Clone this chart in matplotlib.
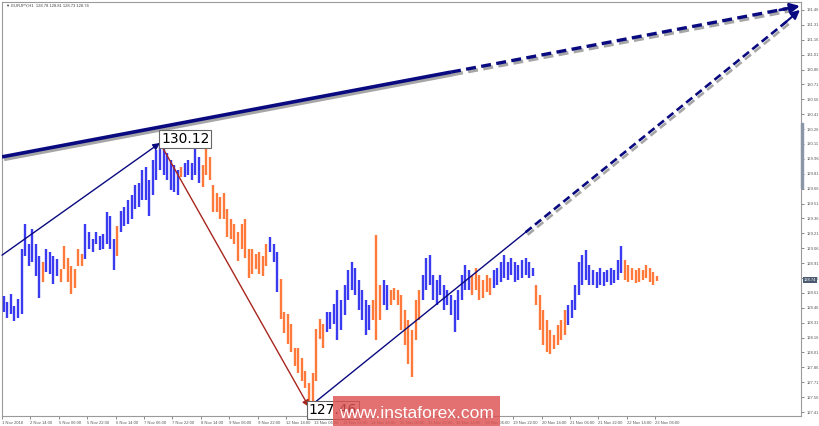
import numpy as np
import matplotlib.pyplot as plt
from matplotlib.patches import Rectangle
import matplotlib.patheffects as pe

# EURJPY H1 - bars (one bar per 2 hours)
highs = [128.58, 128.52, 128.60, 128.48, 128.55, 129.05, 129.30, 129.10, 129.25, 129.10,
         128.98, 128.92, 129.05, 129.02, 128.98, 128.95, 128.85, 129.08, 128.96, 128.88,
         128.85, 129.05, 129.00, 129.30, 129.22, 129.15, 129.22, 129.18, 129.20, 129.42,
         129.38, 129.15, 129.28, 129.43, 129.48, 129.55, 129.60, 129.70, 129.72, 129.85,
         129.88, 129.75, 129.95, 130.05, 130.12, 130.10, 130.02, 129.95, 129.90, 129.85,
         129.88, 129.92, 129.95, 129.92, 130.10, 129.98, 129.90, 130.06, 129.98, 129.70,
         129.62, 129.58, 129.62, 129.45, 129.35, 129.30, 129.22, 129.30, 129.35, 129.05,
         129.05, 129.00, 129.02, 128.98, 129.10, 129.17, 129.10, 129.02, 128.75, 128.42,
         128.40, 128.30, 128.05, 128.05, 127.95, 127.82, 127.70, 127.80, 128.25, 128.35,
         128.30, 128.42, 128.42, 128.50, 128.64, 128.54, 128.69, 128.84, 128.92, 128.86,
         128.74, 128.64, 128.54, 128.49, 128.54, 129.19, 128.69, 128.74, 128.69, 128.64,
         128.66, 128.64, 128.59, 128.44, 128.34, 128.24, 128.54, 128.64, 128.79, 128.96,
         128.99, 128.79, 128.74, 128.79, 128.69, 128.64, 128.59, 128.54, 128.64, 128.79,
         128.89, 128.84, 128.79, 128.86, 128.79, 128.74, 128.79, 128.76, 128.84, 128.86,
         128.92, 128.99, 128.92, 128.96, 128.92, 128.89, 128.94, 128.96, 128.92, 128.86,
         128.69, 128.59, 128.44, 128.34, 128.24, 128.19, 128.29, 128.34, 128.44, 128.49,
         128.54, 128.69, 128.92, 128.99, 129.04, 128.89, 128.84, 128.82, 128.86, 128.82,
         128.84, 128.86, 128.84, 128.94, 129.08, 128.94, 128.89, 128.86, 128.84, 128.86,
         128.84, 128.89, 128.86, 128.82, 128.78]
lows = [128.42, 128.36, 128.40, 128.33, 128.36, 128.40, 128.98, 128.88, 128.92, 128.78,
        128.56, 128.72, 128.82, 128.80, 128.70, 128.78, 128.72, 128.85, 128.72, 128.60,
        128.66, 128.88, 128.88, 128.95, 129.05, 129.02, 129.10, 129.04, 129.05, 129.10,
        129.05, 128.84, 128.98, 129.22, 129.28, 129.30, 129.35, 129.45, 129.48, 129.55,
        129.55, 129.38, 129.60, 129.75, 129.85, 129.80, 129.75, 129.65, 129.63, 129.60,
        129.78, 129.78, 129.80, 129.75, 129.80, 129.72, 129.68, 129.80, 129.75, 129.42,
        129.42, 129.35, 129.35, 129.17, 129.15, 129.10, 128.93, 129.05, 128.96, 128.76,
        128.80, 128.85, 128.80, 128.78, 128.88, 129.02, 128.92, 128.62, 128.35, 128.21,
        128.10, 128.01, 127.87, 127.80, 127.72, 127.65, 127.46, 127.52, 127.72, 128.15,
        128.05, 128.22, 128.25, 128.30, 128.14, 128.24, 128.39, 128.54, 128.64, 128.59,
        128.44, 128.34, 128.19, 128.24, 128.34, 128.14, 128.34, 128.49, 128.44, 128.49,
        128.54, 128.49, 128.24, 128.09, 127.89, 127.76, 128.14, 128.34, 128.54, 128.64,
        128.69, 128.54, 128.49, 128.59, 128.44, 128.49, 128.39, 128.22, 128.34, 128.54,
        128.64, 128.64, 128.59, 128.64, 128.54, 128.56, 128.62, 128.59, 128.66, 128.69,
        128.72, 128.76, 128.74, 128.79, 128.72, 128.74, 128.76, 128.79, 128.76, 128.78,
        128.49, 128.24, 128.09, 128.01, 127.99, 128.04, 128.09, 128.14, 128.19, 128.29,
        128.36, 128.44, 128.59, 128.69, 128.74, 128.69, 128.69, 128.66, 128.69, 128.68,
        128.72, 128.69, 128.71, 128.74, 128.81, 128.74, 128.72, 128.74, 128.71, 128.72,
        128.74, 128.76, 128.72, 128.69, 128.73]
# wave colouring: index where each run starts, colours alternate blue / orange
run_starts = [0, 11, 12, 16, 23, 32, 33, 50, 51, 56, 75, 78, 91, 104, 107, 109,
              118, 132, 138, 150, 159, 175]

last_close = 128.74
header = "\u25bc EURJPY,H1  128.78 128.81 128.73 128.74"
date_labels = ["1 Nov 2018", "2 Nov 14:00", "5 Nov 06:00", "5 Nov 22:00", "6 Nov 14:00",
               "7 Nov 06:00", "7 Nov 22:00", "8 Nov 14:00", "9 Nov 06:00", "9 Nov 22:00",
               "12 Nov 14:00", "13 Nov 06:00", "13 Nov 22:00", "14 Nov 14:00", "15 Nov 06:00",
               "15 Nov 22:00", "16 Nov 14:00", "19 Nov 06:00", "19 Nov 22:00", "20 Nov 14:00",
               "21 Nov 06:00", "21 Nov 22:00", "22 Nov 14:00", "23 Nov 06:00"]
wave_start = 128.99      # thin arrow start at left edge
channel_start = 129.98   # thick line start at left edge
target_top = 131.50
target_low = 131.46

BLUE = '#3a3af0'
ORANGE = '#ff7a3a'
NAVY = '#0a0a80'
SMALL = dict(family='Liberation Sans', size=3.0)

fig = plt.figure(figsize=(8.2, 4.26), dpi=100)
ax = fig.add_axes([2 / 820, 10 / 426, 799 / 820, 414 / 426])
ax.set_xlim(-0.5, 224.6)
ax.set_ylim(127.37, 131.54)

n = len(highs)
x = np.arange(n)
colors = []
for k, s in enumerate(run_starts):
    e = run_starts[k + 1] if k + 1 < len(run_starts) else n
    colors += [BLUE if k % 2 == 0 else ORANGE] * (e - s)
ax.vlines(x, lows, highs, colors=colors, linewidth=1.7, zorder=3)

# wave arrows
ip = int(np.argmax(highs))
il = int(np.argmin(lows))
xl, xr = -0.5, 224.6

ax.annotate('', xy=(ip, highs[ip]), xytext=(xl, wave_start),
            arrowprops=dict(arrowstyle='-|>', color=NAVY, lw=1.0, mutation_scale=10,
                            shrinkA=0, shrinkB=0), zorder=5)
ax.annotate('', xy=(il, lows[il]), xytext=(ip, highs[ip]),
            arrowprops=dict(arrowstyle='-|>', color='#a8261e', lw=1.0, mutation_scale=10,
                            shrinkA=0, shrinkB=0), zorder=5)

shadow = [pe.SimpleLineShadow(offset=(1.5, -1.8), alpha=0.35), pe.Normal()]

# upper thick line: solid, then dashed projection
xs = 126
ys = channel_start + (target_top - channel_start) * (xs - xl) / (xr - xl)
ax.plot([xl, xs], [channel_start, ys], color=NAVY, lw=2.6, zorder=6,
        solid_capstyle='butt', path_effects=shadow)
ax.plot([xs, xr - 4], [ys, target_top - (target_top - channel_start) * 4 / (xr - xl)],
        color=NAVY, lw=2.4, ls=(0, (3, 1.6)), zorder=6, path_effects=shadow)
ax.annotate('', xy=(xr - 0.3, target_top),
            xytext=(xr - 6, target_top - (target_top - channel_start) * 6 / (xr - xl)),
            arrowprops=dict(arrowstyle='-|>', color=NAVY, lw=2.0, mutation_scale=14,
                            shrinkA=0, shrinkB=0), zorder=7, annotation_clip=False)

# lower line from the low: thin solid, then dashed projection
xs2 = 147
k2 = (target_low - lows[il]) / (xr - il)
ax.plot([il, xs2], [lows[il], lows[il] + k2 * (xs2 - il)], color=NAVY, lw=1.0, zorder=6)
ax.plot([xs2, xr - 4], [lows[il] + k2 * (xs2 - il), target_low - k2 * 4],
        color=NAVY, lw=1.9, ls=(0, (3, 1.6)), zorder=6, path_effects=shadow)
ax.annotate('', xy=(xr - 0.3, target_low), xytext=(xr - 5, target_low - k2 * 5),
            arrowprops=dict(arrowstyle='-|>', color=NAVY, lw=1.5, mutation_scale=13,
                            shrinkA=0, shrinkB=0), zorder=7, annotation_clip=False)

# price labels
box = dict(boxstyle='square,pad=0.12', facecolor='white', edgecolor='#666666', lw=0.8)
ax.text(ip + 0.3, highs[ip] + 0.04, f"{highs[ip]:.2f}", fontsize=10, ha='left', va='center',
        bbox=box, zorder=8)
ax.text(il - 0.1, lows[il] - 0.03, f"{lows[il]:.2f}", fontsize=10, ha='left', va='center',
        bbox=box, zorder=8)

# axes look
for sp in ax.spines.values():
    sp.set_color('#9a9a9a')
    sp.set_linewidth(0.8)
ax.yaxis.tick_right()
yt = np.round(127.41 + 0.15 * np.arange(28), 2)
ax.set_yticks(yt)
ax.set_yticklabels([f"{v:.2f}" for v in yt], fontdict=SMALL)
ax.tick_params(axis='y', labelcolor='#555555', color='#777777', length=2.5,
               width=0.6, pad=1.5)
xt = np.arange(0, n, 8)
ax.set_xticks(xt - 0.5)
ax.set_xticklabels(date_labels[:len(xt)], fontdict=SMALL)
ax.tick_params(axis='x', labelcolor='#555555', color='#777777', length=2.5,
               width=0.6, pad=1)
for t in ax.get_xticklabels():
    t.set_horizontalalignment('left')

ax.text(1.003, last_close, f"{last_close:.2f}", transform=ax.get_yaxis_transform(),
        color='white', ha='left', va='center', fontdict=SMALL,
        bbox=dict(boxstyle='square,pad=0.2', facecolor='#4b5a70', edgecolor='none'), zorder=9)

fig.patches.append(Rectangle((801 / 820, 238 / 426), 2 / 820, 65 / 426,
                             transform=fig.transFigure, color='#8a96a6', zorder=1))
fig.text(6 / 820, 1 - 6 / 426, header, color='#444444', va='center', ha='left',
         family=['Liberation Sans', 'DejaVu Sans'], size=3.0)

# watermark
fig.patches.append(Rectangle((333 / 820, 0), 167 / 820, 30 / 426, transform=fig.transFigure,
                             facecolor='#dd5252', edgecolor='none', alpha=0.82, zorder=20))
fig.text(416 / 820, 12 / 426, "www.instaforex.com", fontsize=12.5, color='white',
         family='Liberation Sans', ha='center', va='center', zorder=21)

fig.savefig('out.png', dpi=100)
